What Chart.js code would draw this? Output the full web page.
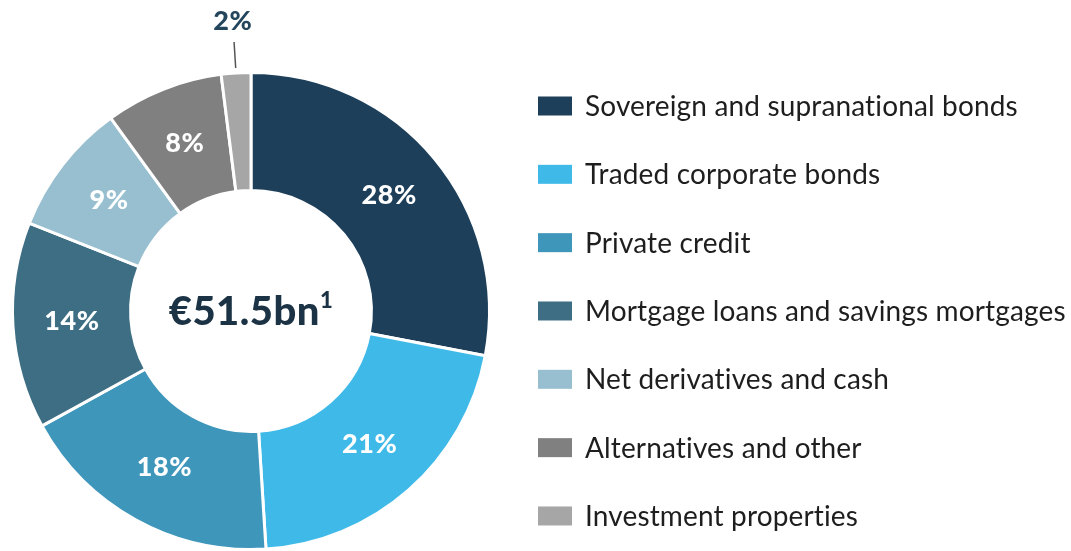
<!DOCTYPE html>
<html>
<head>
<meta charset="utf-8">
<script src="https://cdn.jsdelivr.net/npm/chart.js@4.4.0/dist/chart.umd.min.js"></script>
<style>
  html, body { margin: 0; padding: 0; background: #fff; }
  #wrap { width: 1071px; height: 551px; }
</style>
</head>
<body>
<div id="wrap"><canvas id="chartDisplay" width="1071" height="551"></canvas></div>
<script>
const categories = [
  'Sovereign and supranational bonds',
  'Traded corporate bonds',
  'Private credit',
  'Mortgage loans and savings mortgages',
  'Net derivatives and cash',
  'Alternatives and other',
  'Investment properties'
];
const shares = [28, 21, 18, 14, 9, 8, 2];   // % of total
const sliceColors = ['#1d3f5a', '#3fbae8', '#3e96bb', '#3d6e84', '#97bfd0', '#808080', '#a6a6a6'];
const centerTotal = '€51.5bn';
const centerNote = '1';

const fontName = 'Lato';

// labels on the slices, the total in the hole and the legend on the right
const sliceLabels = {
  id: 'sliceLabels',
  afterDatasetsDraw(chart) {
    const ctx = chart.ctx;
    const arcs = chart.getDatasetMeta(0).data;
    ctx.save();
    ctx.textAlign = 'center';
    ctx.textBaseline = 'middle';
    ctx.font = '900 27px ' + fontName;
    ctx.letterSpacing = '0.6px';
    arcs.forEach((arc, i) => {
      const text = shares[i] + '%';
      if (shares[i] < 5) {
        // small slice: label outside with a leader line
        const p = arc.getProps(['x', 'y', 'startAngle', 'endAngle', 'outerRadius'], true);
        const mid = (p.startAngle + p.endAngle) / 2;
        const cx = Math.cos(mid), cy = Math.sin(mid);
        ctx.strokeStyle = '#555';
        ctx.lineWidth = 1.5;
        ctx.beginPath();
        ctx.moveTo(p.x + cx * (p.outerRadius + 5), p.y + cy * (p.outerRadius + 5));
        ctx.lineTo(p.x + cx * (p.outerRadius + 31), p.y + cy * (p.outerRadius + 31));
        ctx.stroke();
        ctx.fillStyle = '#24465c';
        ctx.fillText(text, p.x + cx * (p.outerRadius + 52), p.y + cy * (p.outerRadius + 52));
      } else {
        const c = arc.getCenterPoint();
        ctx.fillStyle = '#fff';
        ctx.fillText(text, c.x, c.y - 1);
      }
    });

    // total in the middle
    const c0 = arcs[0].getProps(['x', 'y'], true);
    ctx.letterSpacing = '0.5px';
    ctx.font = '900 40px ' + fontName;
    const mainW = ctx.measureText(centerTotal).width;
    ctx.font = '900 22px ' + fontName;
    const noteW = ctx.measureText(centerNote).width;
    const startX = c0.x - (mainW + noteW) / 2;
    ctx.textAlign = 'left';
    ctx.fillStyle = '#1b3344';
    ctx.font = '900 40px ' + fontName;
    ctx.fillText(centerTotal, startX, c0.y + 1);
    ctx.font = '900 22px ' + fontName;
    ctx.fillText(centerNote, startX + mainW, c0.y - 10);

    // legend
    ctx.font = '28px ' + fontName;
    ctx.letterSpacing = '0.15px';
    categories.forEach((name, i) => {
      const y = 106 + i * 68.33;
      ctx.fillStyle = sliceColors[i];
      ctx.fillRect(538, y - 9.5, 34, 19);
      ctx.fillStyle = '#1e1e1e';
      ctx.fillText(name, 585, y + 1);
    });
    ctx.restore();
  }
};

Chart.defaults.font.family = fontName;

let chart = new Chart(document.getElementById('chartDisplay'), {
  type: 'doughnut',
  data: {
    labels: categories,
    datasets: [{
      data: shares,
      backgroundColor: sliceColors,
      borderColor: '#ffffff',
      borderWidth: 3
    }]
  },
  options: {
    responsive: false,
    animation: false,
    cutout: '50.5%',
    layout: { padding: { left: 11, right: 580, top: 71, bottom: 0 } },
    plugins: {
      legend: { display: false },
      tooltip: { enabled: false }
    }
  },
  plugins: [sliceLabels]
});
</script>
</body>
</html>
